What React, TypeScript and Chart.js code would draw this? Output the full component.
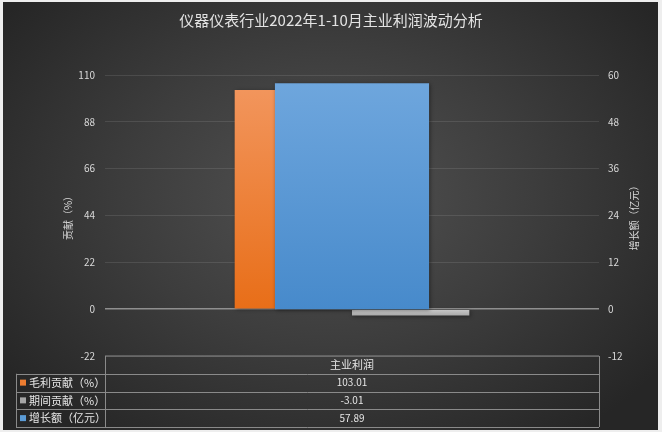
import { useEffect, useRef } from 'react';
import { Chart, registerables } from 'chart.js';

Chart.register(...registerables);

const categories = ['主业利润'];
const seriesNames = ['毛利贡献（%）', '期间贡献（%）', '增长额（亿元）'];
const grossContribution = [103.01];
const periodContribution = [-3.01];
const growthAmount = [57.89];
const leftTicks = [-22, 0, 22, 44, 66, 88, 110];
const rightTicks = [-12, 0, 12, 24, 36, 48, 60];
const leftTitle = '贡献（%）';
const rightTitle = '增长额（亿元）';

const FONT = "'Noto Sans CJK SC', 'Noto Sans', sans-serif";
const swatches = ['#ED7D31', '#A5A5A5', '#5B9BD5'];

// vertical gradient from the bar's value down to zero
const barFill = (top: string, bottom: string) => (c: any) => {
  const chart = c.chart;
  if (!chart.chartArea || c.type !== 'data') return bottom;
  const meta = chart.getDatasetMeta(c.datasetIndex);
  const yScale = chart.scales[meta.yAxisID];
  const y0 = yScale.getPixelForValue(0);
  const y1 = yScale.getPixelForValue(c.parsed.y);
  const g = chart.ctx.createLinearGradient(0, Math.min(y0, y1), 0, Math.max(y0, y1));
  g.addColorStop(0, top);
  g.addColorStop(1, bottom);
  return g;
};

const shadowPlugin = {
  id: 'barShadow',
  beforeDatasetsDraw(chart: any) {
    const ctx = chart.ctx;
    ctx.save();
    ctx.shadowColor = 'rgba(0,0,0,0.45)';
    ctx.shadowBlur = 4;
    ctx.shadowOffsetX = 1;
    ctx.shadowOffsetY = 1;
  },
  afterDatasetsDraw(chart: any) {
    chart.ctx.restore();
  },
};

// right axis title reads bottom-to-top like the left one
const rightTitlePlugin = {
  id: 'rightTitle',
  afterDraw(chart: any) {
    const { ctx, chartArea } = chart;
    ctx.save();
    ctx.translate(634, (chartArea.top + chartArea.bottom) / 2);
    ctx.rotate(-Math.PI / 2);
    ctx.fillStyle = '#d9d9d9';
    ctx.font = `10px ${FONT}`;
    ctx.textAlign = 'center';
    ctx.textBaseline = 'middle';
    ctx.fillText(rightTitle, 0, 0);
    ctx.restore();
  },
};

const tablePlugin = {
  id: 'dataTable',
  afterDraw(chart: any) {
    const { ctx, chartArea } = chart;
    const left = chartArea.left;
    const right = chartArea.right;
    const top = chartArea.bottom;
    const legendLeft = 16;
    const rowH = 17.75;
    const rows = [grossContribution, periodContribution, growthAmount];
    const bottom = top + rowH * (rows.length + 1);
    const mid = (left + right) / 2;

    ctx.save();
    ctx.strokeStyle = '#8a8a8a';
    ctx.lineWidth = 1;
    ctx.beginPath();
    ctx.moveTo(left, top);
    ctx.lineTo(right, top);
    for (let i = 1; i <= rows.length + 1; i++) {
      const y = Math.round(top + rowH * i) + 0.5;
      ctx.moveTo(legendLeft, y);
      ctx.lineTo(right, y);
    }
    ctx.moveTo(left + 0.5, top);
    ctx.lineTo(left + 0.5, bottom);
    ctx.moveTo(right + 0.5, top);
    ctx.lineTo(right + 0.5, bottom);
    ctx.moveTo(legendLeft + 0.5, top + rowH);
    ctx.lineTo(legendLeft + 0.5, bottom);
    ctx.stroke();

    ctx.fillStyle = '#e6e6e6';
    ctx.textBaseline = 'middle';
    ctx.textAlign = 'center';
    ctx.font = `11px ${FONT}`;
    ctx.fillText(categories[0], mid, top + rowH / 2);

    rows.forEach((vals, i) => {
      const cy = top + rowH * (i + 1.5);
      ctx.fillStyle = swatches[i];
      ctx.fillRect(legendLeft + 4, cy - 3, 6, 6);
      ctx.fillStyle = '#e6e6e6';
      ctx.textAlign = 'left';
      ctx.font = `11px ${FONT}`;
      ctx.fillText(seriesNames[i], legendLeft + 13, cy);
      ctx.textAlign = 'center';
      ctx.font = `10px ${FONT}`;
      ctx.fillText(vals[0].toFixed(2), mid, cy);
    });
    ctx.restore();
  },
};

export default function App() {
  const canvasRef = useRef<HTMLCanvasElement>(null);

  useEffect(() => {
    if (!canvasRef.current) return;
    const chart = new Chart(canvasRef.current, {
      type: 'bar',
      data: {
        labels: categories,
        datasets: [
          {
            label: seriesNames[0],
            data: grossContribution,
            yAxisID: 'y',
            order: 1,
            backgroundColor: barFill('#F2955C', '#E86E18'),
            categoryPercentage: 0.475,
            barPercentage: 1,
          },
          {
            label: seriesNames[1],
            data: periodContribution,
            yAxisID: 'y',
            order: 2,
            backgroundColor: barFill('#C9C9C9', '#A9A9A9'),
            categoryPercentage: 0.475,
            barPercentage: 1,
          },
          {
            label: seriesNames[2],
            data: growthAmount,
            yAxisID: 'y1',
            order: 0,
            grouped: false,
            backgroundColor: barFill('#6EA6DD', '#478ACB'),
            categoryPercentage: 0.312,
            barPercentage: 1,
          },
        ],
      },
      options: {
        responsive: true,
        maintainAspectRatio: false,
        animation: false,
        layout: { padding: { left: 0, right: 0, top: 0, bottom: 76 } },
        plugins: {
          legend: { display: false },
          tooltip: { enabled: false },
          title: {
            display: true,
            text: '仪器仪表行业2022年1-10月主业利润波动分析',
            color: '#e3e3e3',
            font: { family: FONT, size: 15, weight: 'normal', lineHeight: 1.2 },
            padding: { top: 11, bottom: 46 },
          },
        },
        scales: {
          x: { type: 'category', display: false },
          y: {
            position: 'left',
            min: leftTicks[0],
            max: leftTicks[leftTicks.length - 1],
            afterBuildTicks: (s: any) => {
              s.ticks = leftTicks.map((v) => ({ value: v }));
            },
            afterFit: (s: any) => {
              s.width = 105;
            },
            border: { display: false },
            grid: {
              drawTicks: false,
              color: (c: any) => (c.tick && c.tick.value === 0 ? '#8f8f8f' : 'rgba(255,255,255,0.1)'),
              lineWidth: (c: any) => (c.tick && c.tick.value === 0 ? 1.5 : 1),
            },
            ticks: {
              padding: 10,
              color: '#d9d9d9',
              font: { family: FONT, size: 10 },
            },
            title: {
              display: true,
              text: leftTitle,
              color: '#d9d9d9',
              font: { family: FONT, size: 10 },
              padding: { top: 62, bottom: 0 },
            },
          },
          y1: {
            position: 'right',
            min: rightTicks[0],
            max: rightTicks[rightTicks.length - 1],
            afterBuildTicks: (s: any) => {
              s.ticks = rightTicks.map((v) => ({ value: v }));
            },
            afterFit: (s: any) => {
              s.width = 63;
            },
            border: { display: false },
            grid: { display: false, drawTicks: false },
            ticks: {
              padding: 9,
              color: '#d9d9d9',
              font: { family: FONT, size: 10 },
            },
            title: { display: false },
          },
        },
      },
      plugins: [shadowPlugin, tablePlugin, rightTitlePlugin],
    } as any);
    return () => chart.destroy();
  }, []);

  return (
    <div style={{ position: 'absolute', left: 0, top: 0, width: 662, height: 432, background: '#eeeeee' }}>
      <div
        style={{
          position: 'absolute',
          left: 3,
          top: 2,
          width: 655,
          height: 428,
          background: 'radial-gradient(ellipse 62% 70% at 50% 45%, #525252 0%, #3d3d3d 50%, #262626 100%)',
        }}
      />
      <div style={{ position: 'absolute', left: 0, top: 0, width: 662, height: 432 }}>
        <canvas ref={canvasRef} />
      </div>
    </div>
  );
}
